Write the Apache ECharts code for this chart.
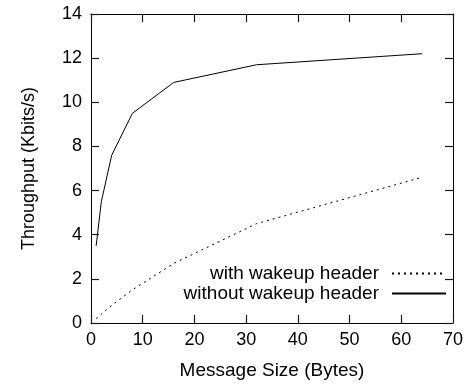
<!DOCTYPE html>
<html>
<head>
<meta charset="utf-8">
<script src="https://cdn.jsdelivr.net/npm/echarts@6/dist/echarts.min.js"></script>
<style>
html,body{margin:0;padding:0;background:#fff;}
#chart{width:471px;height:385px;}
</style>
</head>
<body>
<div id="chart"></div>
<script>
const messageSizes = [1, 2, 4, 8, 16, 32, 64];
const withHeader = [0.2, 0.4, 0.8, 1.5, 2.7, 4.5, 6.6];
const withoutHeader = [3.5, 5.5, 7.6, 9.5, 10.9, 11.7, 12.2];
const seriesNames = ['with wakeup header', 'without wakeup header'];
const xTitle = 'Message Size (Bytes)';
const yTitle = 'Throughput (Kbits/s)';

const font = 'Liberation Sans, Arial, Helvetica, sans-serif';
const fs = 18;
const tickColor = '#1a1a1a';

function pairs(xs, ys) { return xs.map((x, i) => [x, ys[i]]); }

const chart = echarts.init(document.getElementById('chart'), null, {renderer: 'canvas'});
chart.setOption({
  animation: false,
  backgroundColor: '#fff',
  textStyle: {fontFamily: font, color: '#000'},
  grid: {left: 91, right: 18, top: 14, bottom: 60, containLabel: false},
  legend: {
    data: seriesNames, orient: 'vertical', align: 'right', right: 24, top: 264, padding: 0,
    itemGap: 1, itemWidth: 54, itemHeight: 14, itemStyle: {opacity: 0},
    textStyle: {fontFamily: font, fontSize: 19, color: '#000', padding: [0, 8, 0, 0]}
  },
  xAxis: [{
    type: 'value', min: 0, max: 70, interval: 10, position: 'bottom',
    name: xTitle, nameLocation: 'middle', nameGap: 38,
    nameTextStyle: {fontFamily: font, fontSize: 19, color: '#000'},
    axisLine: {show: true, lineStyle: {color: '#000'}},
    axisTick: {show: true, inside: true, length: 8, lineStyle: {color: tickColor, width: 1.2}},
    axisLabel: {fontFamily: font, fontSize: fs, color: '#000', margin: 8},
    splitLine: {show: false}
  }, {
    type: 'value', min: 0, max: 70, interval: 10, position: 'top',
    axisLine: {show: true, onZero: false, lineStyle: {color: '#000'}},
    axisTick: {show: true, inside: false, length: -8, lineStyle: {color: tickColor, width: 1.2}},
    axisLabel: {show: false}, splitLine: {show: false}
  }],
  yAxis: [{
    type: 'value', min: 0, max: 14, interval: 2, position: 'left',
    name: yTitle, nameLocation: 'middle', nameGap: 53,
    nameTextStyle: {fontFamily: font, fontSize: fs, color: '#000'},
    axisLine: {show: true, lineStyle: {color: '#000'}},
    axisTick: {show: true, inside: true, length: 8, lineStyle: {color: tickColor, width: 1.2}},
    axisLabel: {fontFamily: font, fontSize: fs, color: '#000', margin: 9},
    splitLine: {show: false}
  }, {
    type: 'value', min: 0, max: 14, interval: 2, position: 'right',
    axisLine: {show: true, onZero: false, lineStyle: {color: '#000'}},
    axisTick: {show: true, inside: false, length: -8, lineStyle: {color: tickColor, width: 1.2}},
    axisLabel: {show: false}, splitLine: {show: false}
  }],
  series: [{
    name: seriesNames[0], type: 'line', symbol: 'none',
    data: pairs(messageSizes, withHeader),
    lineStyle: {color: '#000', width: 1, type: [2, 4]}, itemStyle: {color: '#000'}
  }, {
    name: seriesNames[1], type: 'line', symbol: 'none',
    data: pairs(messageSizes, withoutHeader),
    lineStyle: {color: '#000', width: 1, type: 'solid'}, itemStyle: {color: '#000'}
  }]
});
</script>
</body>
</html>
